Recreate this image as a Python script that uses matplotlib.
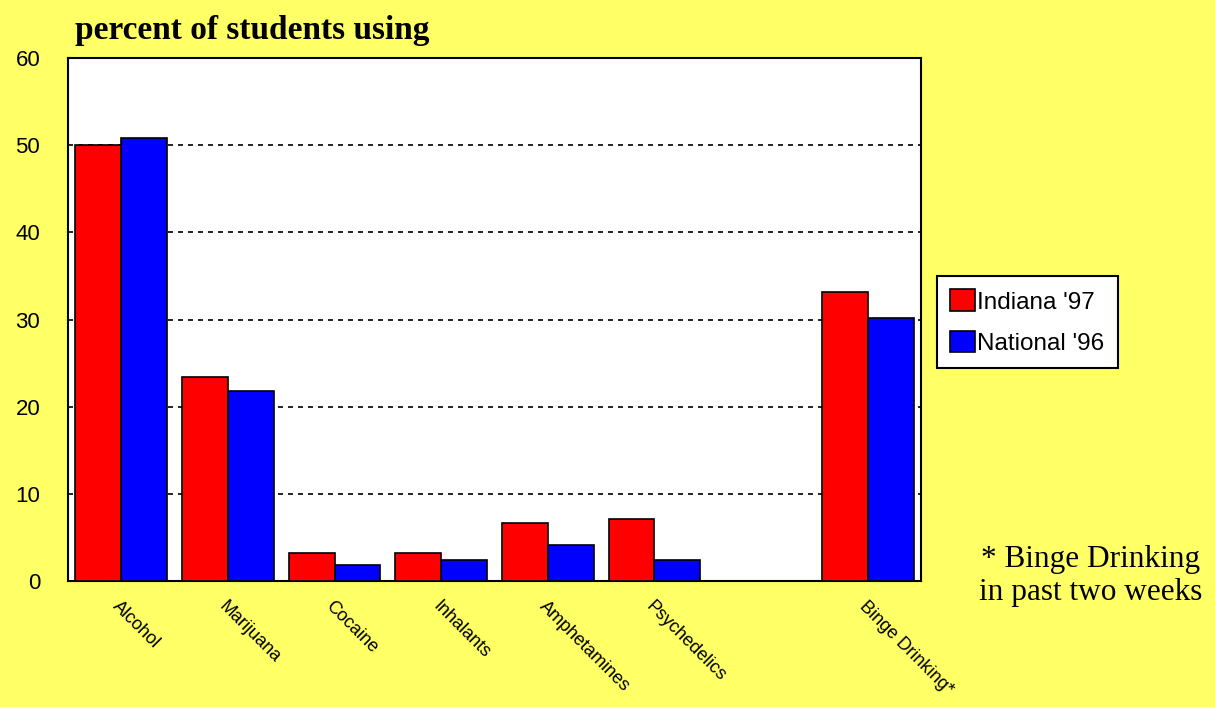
import numpy as np
import matplotlib as mpl
mpl.use("Agg")
import matplotlib.pyplot as plt

# ---------- data ----------
categories = ["Alcohol", "Marijuana", "Cocaine", "Inhalants", "Amphetamines",
              "Psychedelics", "", "Binge Drinking*"]
indiana_97 = [50.0, 23.4, 3.2, 3.2, 6.7, 7.1, np.nan, 33.1]
national_96 = [50.8, 21.8, 1.8, 2.4, 4.1, 2.4, np.nan, 30.2]
yticks = [0, 10, 20, 30, 40, 50, 60]

BG = "#FFFF66"
SANS = "Liberation Sans"
SERIF = "Liberation Serif"

fig = plt.figure(figsize=(12.15, 7.07), dpi=100, facecolor=BG)
ax = fig.add_axes([68 / 1215, 126 / 707, 853 / 1215, 523 / 707])
ax.set_facecolor("white")

x = np.arange(len(categories))
w = 0.43
ax.bar(x - w / 2, indiana_97, w, color="#FF0000", edgecolor="black",
       linewidth=1.2, label="Indiana '97", zorder=3)
ax.bar(x + w / 2, national_96, w, color="#0000FF", edgecolor="black",
       linewidth=1.2, label="National '96", zorder=3)

ax.set_xlim(-0.5, len(categories) - 0.5)
ax.set_ylim(0, 60)
ax.set_yticks(yticks)
ax.set_yticklabels([str(t) for t in yticks], fontsize=16, family=SANS)
ax.tick_params(axis="y", length=0, pad=20)
ax.tick_params(axis="x", length=0, pad=12)
ax.set_xticks(x)
ax.set_xticklabels(categories, rotation=-45, ha="left", va="top",
                   rotation_mode="anchor", fontsize=13, family=SANS)
ax.yaxis.grid(True, color="black", ls=(0, (3, 3)), lw=1.2, zorder=1)
for s in ax.spines.values():
    s.set_color("black")
    s.set_linewidth(1.5)

fig.text(75 / 1215, 1 - 30 / 707, "percent of students using", fontsize=24,
         fontweight="bold", family=SERIF, va="center", ha="left")

leg = fig.legend(loc="upper left", bbox_to_anchor=(937 / 1215, 1 - 276 / 707),
                 frameon=True, fancybox=False, edgecolor="black",
                 facecolor="white", framealpha=1,
                 prop={"family": SANS, "size": 17.5}, handlelength=1.0,
                 handleheight=1.0, handletextpad=0.1, borderpad=0.55,
                 labelspacing=0.7, borderaxespad=0)
leg.get_frame().set_linewidth(1.5)

fig.text(1091 / 1215, 1 - 576 / 707, "* Binge Drinking\nin past two weeks",
         fontsize=22.5, family=SERIF, ha="center", va="center", linespacing=1.2)

fig.savefig("out.png", dpi=100, facecolor=BG)
